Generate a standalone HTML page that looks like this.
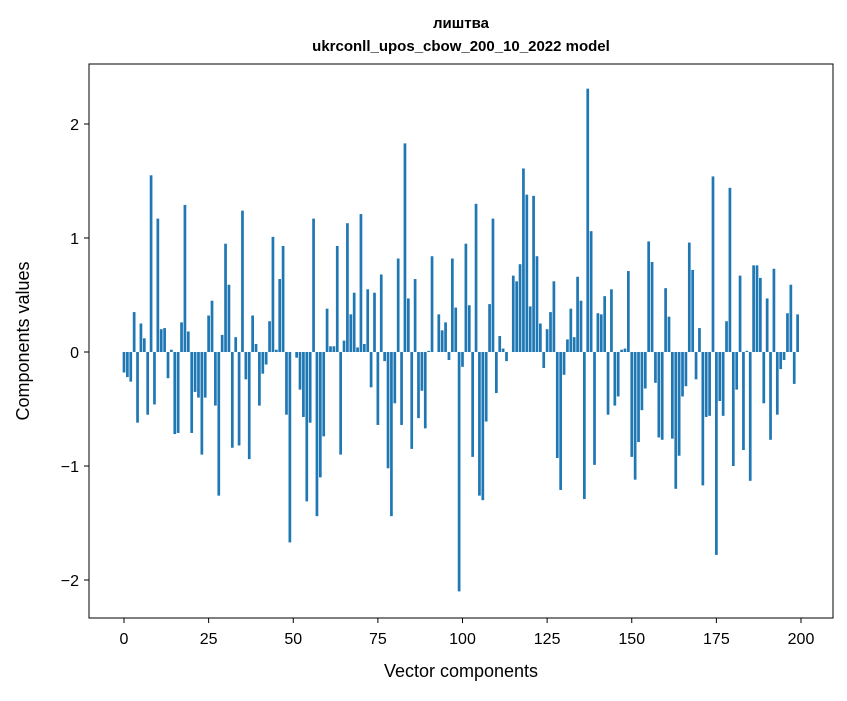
<!DOCTYPE html>
<html><head><meta charset="utf-8"><style>
body{margin:0;background:#fff;font-family:"Liberation Sans","DejaVu Sans",sans-serif;}
</style></head><body>
<svg id="chart" width="847" height="696" xmlns="http://www.w3.org/2000/svg" font-family="Liberation Sans, DejaVu Sans, sans-serif">
<text x="461" y="28" text-anchor="middle" font-size="15" font-weight="bold">лиштва</text>
<text x="461" y="51" text-anchor="middle" font-size="15" font-weight="bold">ukrconll_upos_cbow_200_10_2022 model</text>
<g id="bars"></g>
<g id="axes"></g>
<rect x="89" y="64" width="744" height="554" fill="none" stroke="#000" stroke-width="1"/>
<text x="461" y="677" text-anchor="middle" font-size="18">Vector components</text>
<text transform="translate(29,341) rotate(-90)" text-anchor="middle" font-size="18">Components values</text>
</svg>
<script>
const values = [-0.18,-0.22,-0.26,0.35,-0.62,0.25,0.12,-0.55,1.55,-0.46,1.17,0.2,0.21,-0.23,0.02,-0.72,-0.71,0.26,1.29,0.18,-0.71,-0.35,-0.4,-0.9,-0.4,0.32,0.45,-0.47,-1.26,0.15,0.95,0.59,-0.84,0.13,-0.82,1.24,-0.24,-0.94,0.32,0.07,-0.47,-0.19,-0.11,0.27,1.01,0.02,0.64,0.93,-0.55,-1.67,0.0,-0.05,-0.33,-0.57,-1.31,-0.62,1.17,-1.44,-1.1,-0.74,0.38,0.05,0.05,0.93,-0.9,0.1,1.13,0.33,0.52,0.04,1.21,0.07,0.55,-0.31,0.52,-0.64,0.68,-0.08,-1.02,-1.44,-0.45,0.82,-0.64,1.83,0.47,-0.85,0.64,-0.58,-0.34,-0.67,0.01,0.84,0.0,0.33,0.19,0.26,-0.07,0.82,0.39,-2.1,-0.13,0.95,0.41,-0.92,1.3,-1.26,-1.3,-0.61,0.42,1.17,-0.36,0.14,0.03,-0.08,0.0,0.67,0.62,0.77,1.61,1.38,0.4,1.37,0.84,0.25,-0.14,0.2,0.35,0.62,-0.93,-1.21,-0.2,0.11,0.38,0.13,0.66,0.45,-1.29,2.31,1.06,-0.99,0.34,0.33,0.49,-0.55,0.55,-0.47,-0.39,0.02,0.03,0.71,-0.92,-1.12,-0.79,-0.51,-0.32,0.97,0.79,-0.27,-0.75,-0.77,0.56,0.31,-0.76,-1.2,-0.91,-0.39,-0.3,0.96,0.72,-0.24,0.21,-1.17,-0.57,-0.56,1.54,-1.78,-0.43,-0.56,0.27,1.44,-1.0,-0.33,0.67,-0.86,0.01,-1.13,0.76,0.76,0.65,-0.45,0.47,-0.77,0.73,-0.55,-0.15,-0.07,0.34,0.59,-0.28,0.33];
const xTicks = [0,25,50,75,100,125,150,175,200];
const yTicks = [-2,-1,0,1,2];
const yTickLabels = ["\u22122","\u22121","0","1","2"];
const NS="http://www.w3.org/2000/svg";
const sx = v => 124 + v*3.385;
const sy = v => 352 - v*114;
const bars=document.getElementById('bars');
values.forEach((v,i)=>{
  const r=document.createElementNS(NS,'rect');
  
  
  const y0=sy(0), y1=sy(v);
  r.setAttribute('x',sx(i-0.4));
  r.setAttribute('width',3.385*0.8);
  r.setAttribute('y',Math.min(y0,y1));
  r.setAttribute('height',Math.abs(y1-y0));
  r.setAttribute('fill','#1f77b4');
  bars.appendChild(r);
});
const axes=document.getElementById('axes');
xTicks.forEach(t=>{
  const l=document.createElementNS(NS,'line');
  
  
  l.setAttribute('x1',sx(t));l.setAttribute('x2',sx(t));
  l.setAttribute('y1',618);l.setAttribute('y2',623);l.setAttribute('stroke','#000');
  axes.appendChild(l);
  const tx=document.createElementNS(NS,'text');
  
  
  tx.setAttribute('x',sx(t));tx.setAttribute('y',644);
  tx.setAttribute('text-anchor','middle');tx.setAttribute('font-size','16');
  tx.textContent=t;axes.appendChild(tx);
});
yTicks.forEach((t,i)=>{
  const l=document.createElementNS(NS,'line');
  
  
  l.setAttribute('x1',84);l.setAttribute('x2',89);
  l.setAttribute('y1',sy(t));l.setAttribute('y2',sy(t));l.setAttribute('stroke','#000');
  axes.appendChild(l);
  const tx=document.createElementNS(NS,'text');
  
  
  tx.setAttribute('x',79);tx.setAttribute('y',sy(t)+6);
  tx.setAttribute('text-anchor','end');tx.setAttribute('font-size','16');
  tx.textContent=yTickLabels[i];axes.appendChild(tx);
});
</script>
</body></html>
